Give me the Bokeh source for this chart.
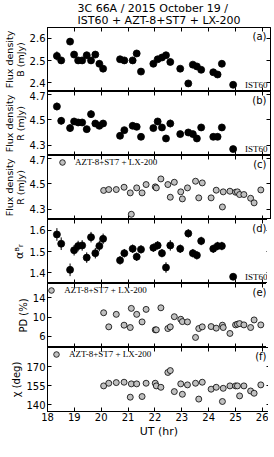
import numpy as np
from bokeh.plotting import figure
from bokeh.layouts import column
from bokeh.models import (Range1d, LinearAxis, Label, FixedTicker, Legend, LegendItem,
                          ColumnDataSource, Title, CustomLabelingPolicy)
from bokeh.embed import file_html
from bokeh.resources import INLINE

# ---------------- data ----------------
# IST60 (B and R photometry, spectral index)
t_ist = [18.35, 18.51, 18.84, 18.99, 19.14, 19.29, 19.46, 19.62, 19.78, 19.93,
         20.07, 20.70, 20.86, 21.17, 21.32, 21.48, 21.94, 22.10, 22.26, 22.41,
         22.57, 22.94, 23.24, 23.41, 23.56, 23.72, 24.17, 24.33, 24.49, 24.91]
fluxB = [2.521, 2.501, 2.585, 2.527, 2.501, 2.501, 2.524, 2.501, 2.527, 2.486,
         2.464, 2.506, 2.501, 2.501, 2.532, 2.451, 2.486, 2.506, 2.514, 2.524,
         2.494, 2.464, 2.398, 2.482, 2.474, 2.459, 2.448, 2.438, 2.486, 2.392]
fluxB_err = [0.020, 0.015, 0.015, 0.015, 0.015, 0.015, 0.015, 0.015, 0.015, 0.015,
             0.015, 0.012, 0.012, 0.012, 0.012, 0.010, 0.012, 0.012, 0.012, 0.012,
             0.015, 0.012, 0.010, 0.012, 0.012, 0.012, 0.012, 0.012, 0.015, 0.010]
fluxR_ist = [4.603, 4.491, 4.434, 4.486, 4.478, 4.478, 4.426, 4.543, 4.470, 4.452,
             4.470, 4.374, 4.418, 4.452, 4.444, 4.366, 4.434, 4.486, 4.439, 4.353,
             4.470, 4.387, 4.400, 4.387, 4.353, 4.439, 4.366, 4.366, 4.439, 4.270]
fluxR_ist_err = [0.030, 0.030, 0.030, 0.025, 0.025, 0.025, 0.025, 0.030, 0.025, 0.025,
                 0.025, 0.025, 0.025, 0.025, 0.025, 0.025, 0.025, 0.025, 0.025, 0.025,
                 0.030, 0.025, 0.025, 0.025, 0.025, 0.025, 0.025, 0.025, 0.025, 0.020]
alpha = [1.581, 1.537, 1.413, 1.506, 1.526, 1.529, 1.471, 1.568, 1.492, 1.526,
         1.560, 1.458, 1.492, 1.513, 1.475, 1.510, 1.518, 1.529, 1.492, 1.424,
         1.529, 1.513, 1.586, 1.492, 1.482, 1.550, 1.513, 1.526, 1.526, 1.380]
alpha_err = [0.030, 0.030, 0.030, 0.025, 0.025, 0.025, 0.025, 0.025, 0.025, 0.025,
             0.025, 0.020, 0.020, 0.020, 0.020, 0.020, 0.020, 0.020, 0.020, 0.025,
             0.025, 0.020, 0.020, 0.020, 0.020, 0.020, 0.020, 0.020, 0.020, 0.015]

# AZT-8+ST7 + LX-200 (R photometry and polarimetry)
t_azt = [20.09, 20.28, 20.56, 20.85, 21.08, 21.12, 21.32, 21.52, 21.67, 22.01,
         22.05, 22.22, 22.48, 22.57, 22.72, 22.96, 23.02, 23.21, 23.51, 23.63,
         23.76, 24.09, 24.28, 24.51, 24.54, 24.79, 25.00, 25.07, 25.15, 25.31,
         25.56, 25.69, 25.94]
fluxR_azt = [4.447, 4.454, 4.454, 4.472, 4.428, 4.261, 4.467, 4.428, 4.493, 4.475,
             4.467, 4.537, 4.493, 4.394, 4.511, 4.436, 4.381, 4.467, 4.519, 4.389,
             4.506, 4.389, 4.449, 4.318, 4.436, 4.441, 4.433, 4.436, 4.415, 4.415,
             4.386, 4.350, 4.451]
fluxR_azt_err = [0.012] * 33
pd = [10.92, 7.99, 10.59, 8.34, 7.85, 11.83, 10.59, 9.02, 11.62, 7.37,
      7.37, 11.95, 7.64, 7.99, 10.10, 9.57, 9.08, 9.02, 5.79, 7.64,
      7.99, 8.05, 7.72, 8.34, 7.85, 6.62, 8.40, 8.54, 8.67, 8.40,
      7.85, 9.43, 8.40]
pd_err = [0.5] * 33
chi = [154.9, 157.0, 157.5, 157.8, 146.0, 156.5, 156.5, 146.5, 157.0, 157.0,
       154.9, 153.8, 165.5, 167.0, 150.4, 156.5, 148.3, 155.7, 157.0, 144.5,
       157.8, 152.3, 153.8, 142.6, 153.0, 154.9, 154.9, 154.9, 147.0, 154.9,
       150.9, 149.1, 155.7]
chi_err = [1.5] * 33

x_ticks = [18, 19, 20, 21, 22, 23, 24, 25, 26]

# ---------------- layout ----------------
FW, FH = 223, 64
xr = Range1d(18.0, 26.3)
FONT = "DejaVu Sans"


def style_axis(ax, ticks, show):
    ax.ticker = FixedTicker(ticks=ticks)
    ax.major_tick_in = 4
    ax.major_tick_out = 0
    ax.minor_tick_line_color = None
    ax.axis_line_color = "black"
    ax.major_tick_line_color = "black"
    ax.major_label_text_font = FONT
    ax.major_label_text_color = "black"
    if show:
        ax.major_label_text_font_size = "10px"
        ax.major_label_standoff = 2
    else:
        ax.major_label_text_font_size = "0px"
        ax.major_label_standoff = 0
        ax.major_label_policy = CustomLabelingPolicy(code="return []")


def make_panel(yr, yticks, ylab, lab_size="9.5px", bottom=False):
    p = figure(x_range=xr, y_range=Range1d(*yr), frame_width=FW, frame_height=FH,
               output_backend="svg", toolbar_location=None,
               min_border_left=37, min_border_right=6, min_border_top=0, min_border_bottom=0,
               x_axis_location=None, y_axis_location=None)
    p.grid.visible = False
    p.outline_line_color = "black"
    p.background_fill_color = "white"
    p.border_fill_color = "white"
    for loc, ticks, show in [("left", yticks, True), ("right", yticks, False),
                             ("above", x_ticks, False), ("below", x_ticks, bottom)]:
        ax = LinearAxis()
        style_axis(ax, ticks, show)
        if loc == "left":
            ax.major_label_standoff = 2
            ax.axis_label = ylab
            ax.axis_label_text_font = FONT
            ax.axis_label_text_font_size = lab_size
            ax.axis_label_text_font_style = "normal"
            ax.axis_label_text_color = "black"
            ax.axis_label_text_line_height = 1.0
            ax.axis_label_standoff = 1
        p.add_layout(ax, loc)
    return p


def letter(p, yr, text):
    p.add_layout(Label(x=xr.end, y=yr[1], x_offset=-4, y_offset=-3, text=text,
                       text_align="right", text_baseline="top",
                       text_font=FONT, text_font_size="10px", text_color="black"))


def ist_tag(p, yr):
    p.add_layout(Label(x=xr.end, y=yr[0], x_offset=-3, y_offset=2, text="IST60",
                       text_align="right", text_baseline="bottom",
                       text_font="Liberation Serif", text_font_size="9px", text_color="black"))


def err_plot(p, t, v, e, fill, size):
    lo = [a - b for a, b in zip(v, e)]
    hi = [a + b for a, b in zip(v, e)]
    src = ColumnDataSource(dict(t=t, v=v, lo=lo, hi=hi))
    p.segment(x0="t", y0="lo", x1="t", y1="hi", source=src, line_color="black", line_width=1)
    r = p.scatter(x="t", y="v", source=src, size=size, marker="circle",
                  fill_color=fill, line_color="black", line_width=0.8)
    return r


def azt_legend(p, r):
    empty = ColumnDataSource(dict(x=[], y=[]))
    rd = p.scatter(x="x", y="y", source=empty, marker="dash", angle=np.pi / 2,
                   size=10, line_color="black", line_width=1)
    leg = Legend(items=[LegendItem(label="AZT-8+ST7 + LX-200", renderers=[r, rd])],
                 location=(6, FH - 14), margin=0, padding=0, spacing=0,
                 glyph_width=18, glyph_height=14, label_height=14, label_standoff=4,
                 label_text_font="Liberation Serif", label_text_font_size="9px",
                 label_text_color="black",
                 border_line_alpha=0, background_fill_alpha=0)
    p.add_layout(leg)


# (a)
yr_a = (2.362, 2.648)
pa = make_panel(yr_a, [2.4, 2.5, 2.6], "Flux density\nB (mJy)")
pa.title = Title(text="3C 66A / 2015 October 19 /\nIST60 + AZT-8+ST7 + LX-200", align="center",
                 text_font=FONT, text_font_size="11px", text_font_style="normal",
                 text_color="black", standoff=0, text_line_height=0.95)
err_plot(pa, t_ist, fluxB, fluxB_err, "black", 7)
letter(pa, yr_a, "(a)")
ist_tag(pa, yr_a)

# (b)
yr_b = (4.22, 4.72)
pb = make_panel(yr_b, [4.3, 4.5, 4.7], "Flux density\nR (mJy)")
err_plot(pb, t_ist, fluxR_ist, fluxR_ist_err, "black", 7)
letter(pb, yr_b, "(b)")
ist_tag(pb, yr_b)

# (c)
yr_c = (4.22, 4.72)
pc = make_panel(yr_c, [4.3, 4.5, 4.7], "Flux density\nR (mJy)")
rc = err_plot(pc, t_azt, fluxR_azt, fluxR_azt_err, "#c0c0c0", 6)
letter(pc, yr_c, "(c)")
azt_legend(pc, rc)

# (d)
yr_d = (1.348, 1.652)
pdd = make_panel(yr_d, [1.4, 1.5, 1.6], "α\u1d2e\u1d63", lab_size="11px")
err_plot(pdd, t_ist, alpha, alpha_err, "black", 7)
letter(pdd, yr_d, "(d)")
ist_tag(pdd, yr_d)

# (e)
yr_e = (3.7, 17.0)
pe = make_panel(yr_e, [6, 10, 14], "PD (%)", lab_size="10px")
re_ = err_plot(pe, t_azt, pd, pd_err, "#c0c0c0", 6)
letter(pe, yr_e, "(e)")
azt_legend(pe, re_)

# (f)
yr_f = (134.7, 185.2)
pf = make_panel(yr_f, [140, 155, 170], "χ (deg)", lab_size="10px", bottom=True)
rf = err_plot(pf, t_azt, chi, chi_err, "#c0c0c0", 6)
letter(pf, yr_f, "(f)")
azt_legend(pf, rf)
xa = pf.below[0]
xa.axis_label = "UT (hr)"
xa.axis_label_text_font = FONT
xa.axis_label_text_font_size = "11px"
xa.axis_label_text_font_style = "normal"
xa.axis_label_text_color = "black"
xa.axis_label_standoff = 1
xa.major_label_standoff = 1

layout = column(pa, pb, pc, pdd, pe, pf, spacing=0)
open("out.html", "w").write(file_html(layout, INLINE))
